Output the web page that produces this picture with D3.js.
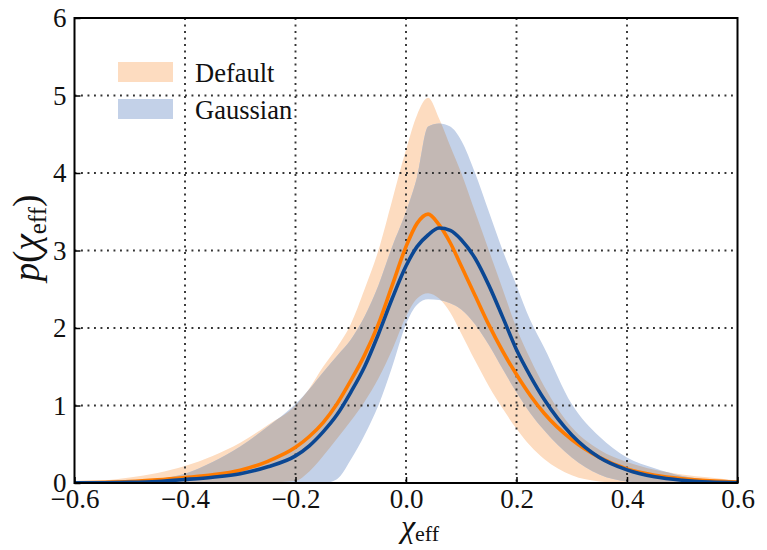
<!DOCTYPE html>
<html lang="en">
<head>
<meta charset="UTF-8">
<title>p(chi_eff)</title>
<script src="https://d3js.org/d3.v7.min.js"></script>
<style>
  body { margin: 0; background: #fff; }
  svg { display: block; font-family: "Liberation Serif", "DejaVu Serif", serif; }
  .tick text { font-size: 27px; fill: #111; }
  .grid line { stroke: #333; stroke-width: 1.9; stroke-dasharray: 1.9 4.6; }
</style>
</head>
<body>
<svg id="chart"></svg>
<script>
// chi_eff grid
const xs = [-0.6,-0.55,-0.5,-0.45,-0.4,-0.35,-0.3,-0.25,-0.2,-0.175,-0.15,-0.125,-0.1,-0.075,-0.05,-0.025,
            0,0.02,0.04,0.06,0.08,0.1,0.125,0.15,0.175,0.2,0.225,0.25,0.3,0.35,0.4,0.45,0.5,0.55,0.6];

// "Default" model: median and 90% band
const defaultMed = [0.003,0.008,0.018,0.04,0.07,0.105,0.165,0.28,0.46,0.6,0.78,1.02,1.32,1.65,2.05,2.55,
                    3.05,3.35,3.47,3.33,3.1,2.8,2.42,2.04,1.7,1.4,1.13,0.9,0.56,0.33,0.18,0.1,0.055,0.028,0.012];
const defaultHi  = [0.015,0.03,0.07,0.13,0.22,0.35,0.52,0.75,1.0,1.22,1.5,1.75,2.05,2.5,3.0,3.65,
                    4.3,4.75,4.97,4.7,4.35,4.0,3.5,3.0,2.5,2.0,1.6,1.25,0.72,0.43,0.27,0.17,0.11,0.07,0.03];
const defaultLo  = [0,0,0,0,0,0,0,0.005,0.03,0.15,0.35,0.57,0.8,1.05,1.35,1.72,
                    2.15,2.38,2.45,2.38,2.2,1.93,1.58,1.25,0.96,0.7,0.48,0.31,0.1,0.02,0,0,0,0,0];

// "Gaussian" model: median and 90% band
const gaussMed = [0.001,0.003,0.008,0.02,0.045,0.075,0.12,0.21,0.35,0.48,0.66,0.88,1.17,1.5,1.92,2.38,
                  2.8,3.05,3.2,3.29,3.26,3.14,2.9,2.55,2.14,1.72,1.38,1.08,0.62,0.33,0.17,0.08,0.035,0.012,0.004];
const gaussHi  = [0.005,0.01,0.02,0.05,0.12,0.27,0.47,0.73,1.02,1.21,1.43,1.64,1.85,2.15,2.55,3.05,
                  3.5,3.95,4.6,4.64,4.6,4.42,4.0,3.5,3.0,2.55,2.1,1.75,1.02,0.6,0.33,0.19,0.09,0.04,0.01];
const gaussLo  = [0,0,0,0,0,0,0,0,0,0,0,0.05,0.3,0.62,1.0,1.5,
                  2.05,2.3,2.37,2.36,2.32,2.24,2.05,1.78,1.47,1.17,0.9,0.68,0.33,0.11,0.02,0,0,0,0];

const xTicks = [-0.6,-0.4,-0.2,0.0,0.2,0.4,0.6];
const yTicks = [0,1,2,3,4,5,6];
const legendNames = ["Default", "Gaussian"];

const width = 767, height = 550;
const plotL = 74.5, plotR = 737.5, plotT = 18, plotB = 483;

const svg = d3.select("#chart").attr("width", width).attr("height", height);

const x = d3.scaleLinear().domain([-0.6, 0.6]).range([plotL, plotR]);
const y = d3.scaleLinear().domain([0, 6]).range([plotB, plotT]);

const toRows = (lo, mid, hi) => xs.map((v, i) => ({x: v, lo: lo[i], mid: mid[i], hi: hi[i]}));
const dflt = toRows(defaultLo, defaultMed, defaultHi);
const gaus = toRows(gaussLo, gaussMed, gaussHi);

const area = d3.area().curve(d3.curveMonotoneX)
  .x(d => x(d.x)).y0(d => y(d.lo)).y1(d => y(d.hi));
const line = d3.line().curve(d3.curveMonotoneX)
  .x(d => x(d.x)).y(d => y(d.mid));

const peach = "#fddcc0", lightBlue = "#c3d1e8", overlap = "#c3b8b4";
const orange = "#ff7b00", navy = "#0b4793";

svg.append("clipPath").attr("id", "plot-clip")
  .append("rect").attr("x", plotL).attr("y", plotT).attr("width", plotR - plotL).attr("height", plotB - plotT);
svg.append("clipPath").attr("id", "gauss-clip")
  .append("path").attr("d", area(gaus));

const plot = svg.append("g").attr("clip-path", "url(#plot-clip)");

// bands
plot.append("path").attr("d", area(dflt)).attr("fill", peach);
plot.append("path").attr("d", area(gaus)).attr("fill", lightBlue);
plot.append("g").attr("clip-path", "url(#gauss-clip)")
  .append("path").attr("d", area(dflt)).attr("fill", overlap);

// grid
const grid = svg.append("g").attr("class", "grid");
grid.selectAll(".gx").data(xTicks.slice(1, -1)).join("line")
  .attr("x1", d => x(d)).attr("x2", d => x(d)).attr("y1", plotT).attr("y2", plotB);
grid.selectAll(".gy").data(yTicks.slice(1, -1)).join("line")
  .attr("x1", plotL).attr("x2", plotR).attr("y1", d => y(d)).attr("y2", d => y(d));

// medians
const lines = svg.append("g").attr("clip-path", "url(#plot-clip)");
lines.append("path").attr("d", line(dflt)).attr("fill", "none")
  .attr("stroke", orange).attr("stroke-width", 3.6);
lines.append("path").attr("d", line(gaus)).attr("fill", "none")
  .attr("stroke", navy).attr("stroke-width", 3.6);

// axes
const fmt = d3.format(".1f");
const xAxis = svg.append("g").attr("transform", `translate(0,${plotB})`)
  .call(d3.axisBottom(x).tickValues(xTicks).tickFormat(fmt).tickSizeInner(-6).tickSizeOuter(0).tickPadding(6));
const yAxis = svg.append("g").attr("transform", `translate(${plotL},0)`)
  .call(d3.axisLeft(y).tickValues(yTicks).tickFormat(d3.format("d")).tickSizeInner(-6).tickSizeOuter(0).tickPadding(8));
[xAxis, yAxis].forEach(g => {
  g.select(".domain").remove();
  g.selectAll(".tick line").attr("stroke", "#000").attr("stroke-width", 1.5);
  g.attr("font-family", null).attr("font-size", null);
});

svg.append("rect").attr("x", plotL).attr("y", plotT)
  .attr("width", plotR - plotL).attr("height", plotB - plotT)
  .attr("fill", "none").attr("stroke", "#000").attr("stroke-width", 2);

// axis labels
const xl = svg.append("text").attr("x", 420).attr("y", 537).attr("text-anchor", "middle").attr("fill", "#111");
xl.append("tspan").attr("font-style", "italic").attr("font-size", 32).text("χ");
xl.append("tspan").attr("font-size", 22).attr("dy", 4).text("eff");

const yl = svg.append("text").attr("transform", "translate(39,238) rotate(-90)")
  .attr("text-anchor", "middle").attr("fill", "#111").attr("font-size", 37);
yl.append("tspan").attr("font-style", "italic").text("p");
yl.append("tspan").text("(");
yl.append("tspan").attr("font-style", "italic").text("χ");
yl.append("tspan").attr("font-size", 25).attr("dy", 7).text("eff");
yl.append("tspan").attr("dy", -7).text(")");

// legend
const legend = svg.append("g");
legendNames.forEach((name, i) => {
  legend.append("rect").attr("x", 118).attr("y", 62 + i * 37).attr("width", 55).attr("height", 20)
    .attr("fill", i === 0 ? peach : lightBlue);
  legend.append("text").attr("x", 195).attr("y", 82 + i * 36.5)
    .attr("font-size", 26.5).attr("fill", "#111").text(name);
});
</script>
</body>
</html>
